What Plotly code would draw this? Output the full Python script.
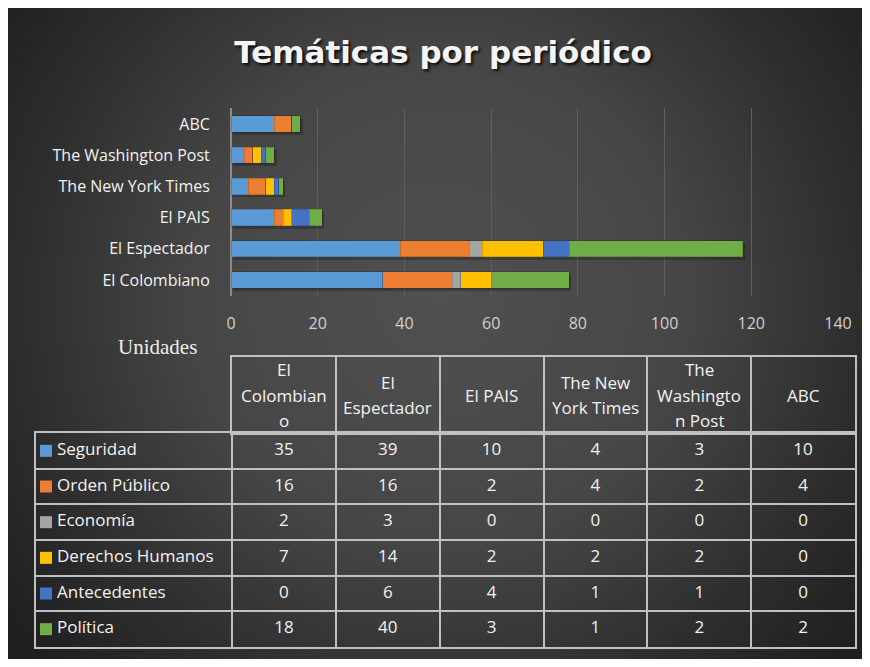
import plotly.graph_objects as go
import base64

# ---------------- data ----------------
newspapers = ["El Colombiano", "El Espectador", "El PAIS",
              "The New York Times", "The Washington Post", "ABC"]
header_labels = ["El<br>Colombian<br>o", "El<br>Espectador", "El PAIS",
                 "The New<br>York Times", "The<br>Washingto<br>n Post", "ABC"]
topics = ["Seguridad", "Orden Público", "Economía",
          "Derechos Humanos", "Antecedentes", "Política"]
seguridad = [35, 39, 10, 4, 3, 10]
orden_publico = [16, 16, 2, 4, 2, 4]
economia = [2, 3, 0, 0, 0, 0]
derechos_humanos = [7, 14, 2, 2, 2, 0]
antecedentes = [0, 6, 4, 1, 1, 0]
politica = [18, 40, 3, 1, 2, 2]
series = [seguridad, orden_publico, economia, derechos_humanos, antecedentes, politica]
colors = ["#5b9bd5", "#ed7d31", "#a5a5a5", "#ffc000", "#4472c4", "#70ad47"]
x_ticks = [0, 20, 40, 60, 80, 100, 120, 140]

# figure fits inside the page's default 8px body margin
FW, FH = 854, 651
OFF = 8


def px(x):  # page x -> paper fraction
    return (x - OFF) / FW


def py(y):  # page y -> paper fraction
    return 1 - (y - OFF) / FH


FONT = "Open Sans"
TXT = "#f2f2f2"
CLEAR = "rgba(0,0,0,0)"
LINE = "#c0c0c0"

fig = go.Figure()

# ---------------- stacked bars (with soft drop shadow underneath) ----------------
totals = [sum(s[j] for s in series) for j in range(len(newspapers))]
bar_w = 0.52
fig.add_trace(go.Bar(
    y=newspapers, x=totals, orientation="h", base=0.5,
    width=bar_w, offset=-bar_w / 2 - 0.09,
    marker=dict(color="rgba(0,0,0,0.22)", line=dict(width=0)),
    showlegend=False, hoverinfo="skip",
))
for name, vals, col in zip(topics, series, colors):
    fig.add_trace(go.Bar(
        y=newspapers, x=vals, name=name, orientation="h",
        marker=dict(color=col, line=dict(width=1, color="rgba(0,0,0,0.15)")),
        xaxis="x4", showlegend=False, hoverinfo="x+name",
    ))

# ---------------- data table (body) ----------------
ncol = len(newspapers)
nrow = len(topics)
tbl_left, tbl_split, tbl_right = 36, 232, 855
col_w = (tbl_right - tbl_split) / ncol
label_units = (tbl_split - tbl_left) / col_w
xmin_body = -0.5 - label_units

cell_x, cell_y, cell_t = [], [], []
for i, s in enumerate(series):
    for j, v in enumerate(s):
        cell_x.append(j)
        cell_y.append(i)
        cell_t.append(str(v))
fig.add_trace(go.Scatter(
    x=cell_x, y=cell_y, text=cell_t, mode="text",
    textfont=dict(family=FONT, size=17, color=TXT),
    xaxis="x2", yaxis="y2", showlegend=False, hoverinfo="skip", cliponaxis=False,
))
# legend keys
fig.add_trace(go.Scatter(
    x=[xmin_body + 10 / col_w] * nrow, y=list(range(nrow)), mode="markers",
    marker=dict(symbol="square", size=12, color=colors, line=dict(width=0)),
    xaxis="x2", yaxis="y2", showlegend=False, hoverinfo="skip", cliponaxis=False,
))
# row labels
fig.add_trace(go.Scatter(
    x=[xmin_body + 21 / col_w] * nrow, y=list(range(nrow)), text=topics, mode="text",
    textposition="middle right",
    textfont=dict(family=FONT, size=17, color=TXT),
    xaxis="x2", yaxis="y2", showlegend=False, hoverinfo="skip", cliponaxis=False,
))

grid_ax = dict(showgrid=True, gridcolor=LINE, gridwidth=2, zeroline=False,
               showline=True, mirror=True, linecolor=LINE, linewidth=2,
               showticklabels=False, ticks="", fixedrange=True, automargin=False)

annotations = []
hdr_top, hdr_bot = 357, 433
line_gap = 25.5 / (hdr_bot - hdr_top)
for j, lab in enumerate(header_labels):
    lines = lab.split("<br>")
    n = len(lines)
    for k, ln in enumerate(lines):
        annotations.append(dict(
            text=ln, xref="x3", yref="y3", x=j,
            y=0.5 + ((n - 1) / 2 - k) * line_gap,
            xanchor="center", yanchor="middle", showarrow=False,
            font=dict(family=FONT, size=17, color=TXT)))

annotations.append(dict(text="Unidades", xref="paper", yref="paper",
                        x=px(157), y=py(347), xanchor="center", yanchor="middle",
                        showarrow=False,
                        font=dict(family="Liberation Serif", size=21, color="#eeeeee")))

# background radial gradient (svg data uri)
svg = f"""<svg xmlns='http://www.w3.org/2000/svg' width='{FW}' height='{FH}' viewBox='0 0 {FW} {FH}'>
<defs><radialGradient id='g' gradientUnits='userSpaceOnUse' cx='{440 - OFF}' cy='{300 - OFF}' r='540'>
<stop offset='0' stop-color='#505050'/>
<stop offset='0.45' stop-color='#464646'/>
<stop offset='0.78' stop-color='#2d2d2d'/>
<stop offset='1' stop-color='#1f1f1f'/>
</radialGradient></defs>
<rect x='0' y='0' width='{FW}' height='{FH}' fill='url(#g)'/>
</svg>"""
src = "data:image/svg+xml;base64," + base64.b64encode(svg.encode()).decode()

bar_xdomain = [px(231), px(838)]
bar_ydomain = [py(295.6), py(108.4)]

fig.update_layout(
    width=FW, height=FH, autosize=False,
    margin=dict(l=0, r=0, t=0, b=0, autoexpand=False),
    paper_bgcolor="#2a2a2a",
    plot_bgcolor=CLEAR,
    barmode="stack",
    bargap=1 - bar_w,
    images=[dict(source=src, xref="paper", yref="paper", x=0, y=1,
                 sizex=1, sizey=1, xanchor="left", yanchor="top",
                 sizing="stretch", layer="below")],
    title=dict(text="<b>Temáticas por periódico</b>", x=px(443), xanchor="center",
               y=py(52), yanchor="middle", automargin=False,
               font=dict(family="DejaVu Sans", size=31, color="#f4f4f4",
                         shadow="2px 2px 3px rgba(0,0,0,0.85)")),
    xaxis=dict(domain=bar_xdomain, range=[0, 140], tickvals=x_ticks,
               showgrid=True, gridcolor="#5e5e5e", gridwidth=1,
               zeroline=True, zerolinecolor="#8c8c8c", zerolinewidth=2,
               ticks="outside", ticklen=13, tickcolor=CLEAR,
               tickfont=dict(family=FONT, size=16, color="#d0d0d0"),
               fixedrange=True, automargin=False),
    xaxis4=dict(domain=bar_xdomain, range=[0, 140], overlaying="x", anchor="y",
                showgrid=False, zeroline=False, showticklabels=False, ticks="",
                fixedrange=True, automargin=False),
    yaxis=dict(domain=bar_ydomain, type="category",
               categoryorder="array", categoryarray=newspapers,
               ticks="outside", ticklen=17, tickcolor=CLEAR,
               tickfont=dict(family=FONT, size=16, color=TXT),
               showgrid=False, fixedrange=True, automargin=False),
    xaxis2=dict(grid_ax, domain=[px(tbl_left), px(tbl_right)], anchor="y2",
                range=[xmin_body, ncol - 0.5],
                tickvals=[j - 0.5 for j in range(ncol)]),
    yaxis2=dict(grid_ax, domain=[py(647), py(hdr_bot)], anchor="x2",
                range=[nrow - 0.5, -0.5],
                tickvals=[i + 0.5 for i in range(nrow - 1)]),
    xaxis3=dict(grid_ax, domain=[px(tbl_split), px(tbl_right)], anchor="y3",
                range=[-0.5, ncol - 0.5],
                tickvals=[j + 0.5 for j in range(ncol - 1)]),
    yaxis3=dict(grid_ax, domain=[py(hdr_bot), py(hdr_top)], anchor="x3",
                range=[0, 1], showgrid=False),
    annotations=annotations,
)

fig.write_html("out.html", config=dict(displayModeBar=False))
